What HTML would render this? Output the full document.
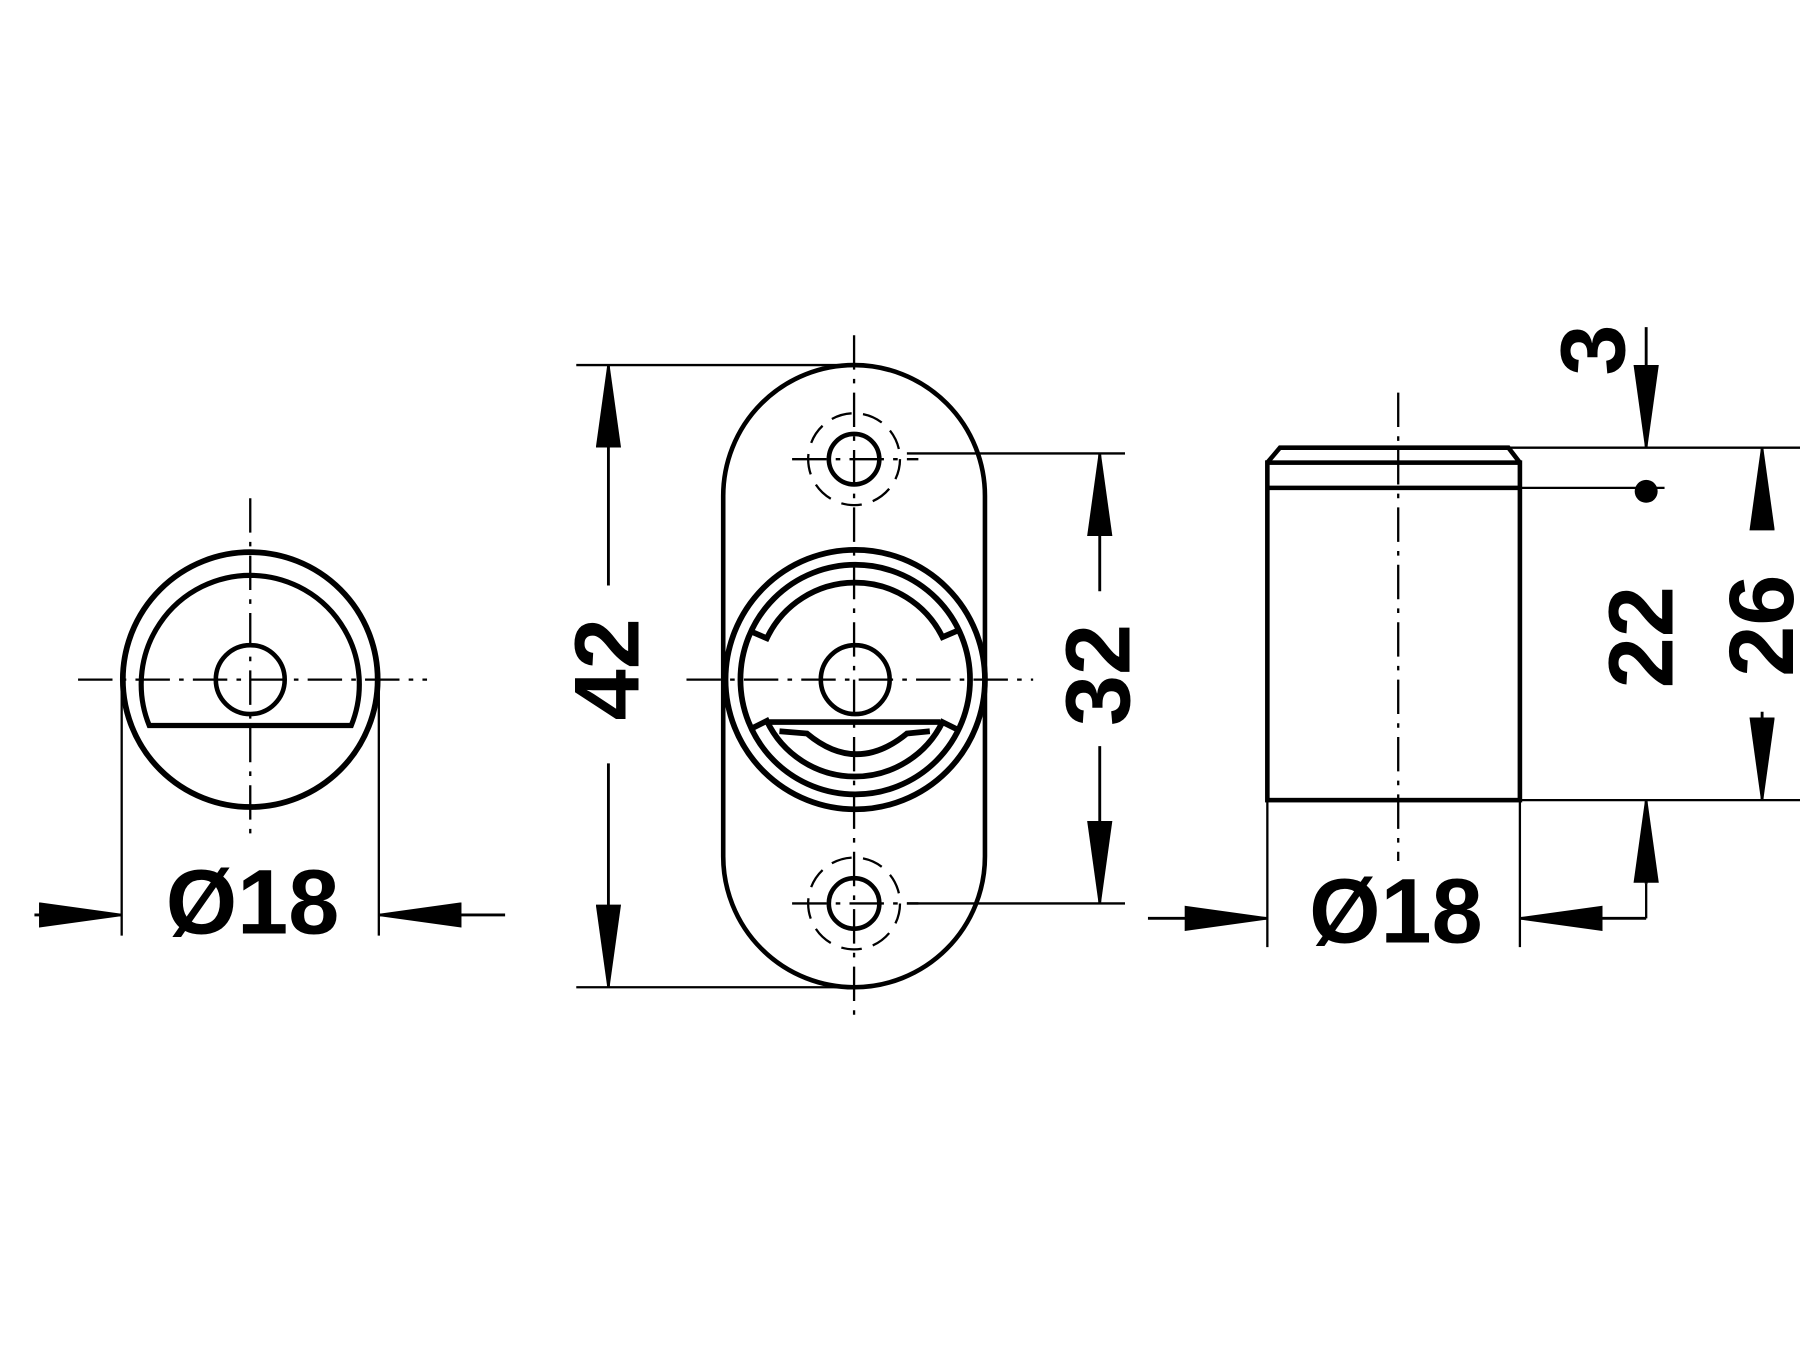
<!DOCTYPE html>
<html><head><meta charset="utf-8"><style>html,body{margin:0;padding:0;background:#fff}svg{display:block}</style></head>
<body>
<svg width="1800" height="1350" viewBox="0 0 1568 1176" xmlns="http://www.w3.org/2000/svg" font-family="Liberation Sans, sans-serif" font-weight="bold">
<defs>
<marker id="b" viewBox="0 0 72 22" refX="72" refY="11" markerWidth="72" markerHeight="22" markerUnits="userSpaceOnUse" orient="auto"><path d="M0,0 L72,10 L72,12 L0,22 Z" fill="#000"/></marker>
</defs>
<rect width="1568" height="1176" fill="#fff"/>
<g fill="none" stroke="#000">
<!-- LEFT VIEW -->
<circle cx="218" cy="592" r="111" stroke-width="5"/>
<path d="M130,632 A95,95 0 1 1 306,632 Z" stroke-width="4.5"/>
<circle cx="218" cy="592" r="30" stroke-width="4"/>
<path d="M68,592 H372 M218,434 V730" stroke-width="2" stroke-dasharray="30,8,4,8"/>
<path d="M106,598 V815 M330,598 V815" stroke-width="2"/>
<line x1="30" y1="797" x2="106" y2="797" stroke-width="2.5" marker-end="url(#b)"/>
<line x1="440" y1="797" x2="330" y2="797" stroke-width="2.5" marker-end="url(#b)"/>
<!-- MIDDLE VIEW -->
<path d="M630,432 A114,114 0 0 1 858,432 V746 A114,114 0 0 1 630,746 Z" stroke-width="4"/>
<circle cx="744" cy="400" r="22" stroke-width="4"/>
<circle cx="744" cy="787" r="22" stroke-width="4"/>
<circle cx="744" cy="400" r="40" stroke-width="2" stroke-dasharray="18,10"/>
<circle cx="744" cy="787" r="40" stroke-width="2" stroke-dasharray="18,10"/>
<circle cx="745" cy="592" r="113" stroke-width="5"/>
<circle cx="745" cy="592" r="100" stroke-width="5"/>
<path d="M654,550 L668,556 A85,85 0 0 1 821,555 L835,549" stroke-width="5"/>
<path d="M835,636 L821,629 A85,85 0 0 1 668,628 L654,635" stroke-width="5"/>
<path d="M670,629 H819" stroke-width="5"/>
<path d="M679,637 L703,639 Q746,675 790,639 L810,637" stroke-width="5"/>
<circle cx="745" cy="592" r="30" stroke-width="4"/>
<path d="M744,292 V890 M598,592 H900 M690,400 H800 M690,787 H800" stroke-width="2" stroke-dasharray="30,8,4,8"/>
<path d="M502,318 H744 M502,860 H744 M790,395 H980 M790,787 H980" stroke-width="2"/>
<line x1="530" y1="510" x2="530" y2="318" stroke-width="2.5" marker-end="url(#b)"/>
<line x1="530" y1="665" x2="530" y2="860" stroke-width="2.5" marker-end="url(#b)"/>
<line x1="958" y1="515" x2="958" y2="395" stroke-width="2.5" marker-end="url(#b)"/>
<line x1="958" y1="650" x2="958" y2="787" stroke-width="2.5" marker-end="url(#b)"/>
<!-- RIGHT VIEW -->
<rect x="1104" y="403" width="220" height="294" stroke-width="4"/>
<path d="M1104,403 L1115,390 H1314 L1324,403 M1104,425 H1324" stroke-width="4"/>
<path d="M1218,342 V750" stroke-width="2" stroke-dasharray="30,8,4,8"/>
<path d="M1314,390 H1568 M1324,425 H1450 M1324,697 H1568 M1104,697 V825 M1324,697 V825 M1434,800 V770" stroke-width="2"/>
<line x1="1434" y1="285" x2="1434" y2="390" stroke-width="2.5" marker-end="url(#b)"/>
<line x1="1434" y1="770" x2="1434" y2="697" stroke-width="2.5" marker-end="url(#b)"/>
<line x1="1535" y1="460" x2="1535" y2="390" stroke-width="2.5" marker-end="url(#b)"/>
<line x1="1535" y1="620" x2="1535" y2="697" stroke-width="2.5" marker-end="url(#b)"/>
<line x1="1000" y1="800" x2="1104" y2="800" stroke-width="2.5" marker-end="url(#b)"/>
<line x1="1434" y1="800" x2="1324" y2="800" stroke-width="2.5" marker-end="url(#b)"/>
</g>
<circle cx="1434" cy="428" r="10" fill="#000"/>
<g fill="#000" font-size="80">
<text x="220" y="813" text-anchor="middle">Ø18</text>
<text x="1216" y="821" text-anchor="middle">Ø18</text>
<text transform="translate(556,583) rotate(-90)" text-anchor="middle">42</text>
<text transform="translate(984,588) rotate(-90)" text-anchor="middle">32</text>
<text transform="translate(1415,305) rotate(-90)" text-anchor="middle">3</text>
<text transform="translate(1457,555) rotate(-90)" text-anchor="middle">22</text>
<text transform="translate(1562,545) rotate(-90)" text-anchor="middle">26</text>
</g>
</svg>
</body></html>
